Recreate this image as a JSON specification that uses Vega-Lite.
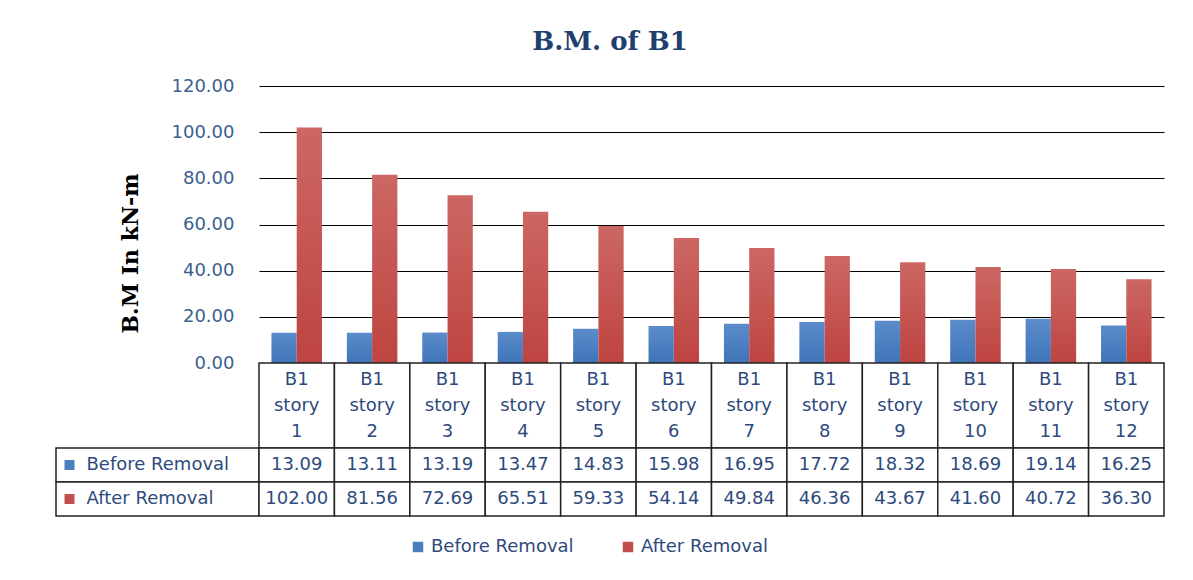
{
  "$schema": "https://vega.github.io/schema/vega-lite/v6.json",
  "background": "white",
  "padding": {"left": 55, "top": 29, "right": 30, "bottom": 3},
  "title": {"text": "B.M. of B1", "font": "DejaVu Serif", "fontSize": 26, "fontWeight": "bold", "color": "#1F3F6E", "anchor": "middle", "offset": 22},
  "datasets": {
    "bm": [
      {"story": "B1 story 1", "series": "Before Removal", "value": 13.09},
      {"story": "B1 story 1", "series": "After Removal", "value": 102.00},
      {"story": "B1 story 2", "series": "Before Removal", "value": 13.11},
      {"story": "B1 story 2", "series": "After Removal", "value": 81.56},
      {"story": "B1 story 3", "series": "Before Removal", "value": 13.19},
      {"story": "B1 story 3", "series": "After Removal", "value": 72.69},
      {"story": "B1 story 4", "series": "Before Removal", "value": 13.47},
      {"story": "B1 story 4", "series": "After Removal", "value": 65.51},
      {"story": "B1 story 5", "series": "Before Removal", "value": 14.83},
      {"story": "B1 story 5", "series": "After Removal", "value": 59.33},
      {"story": "B1 story 6", "series": "Before Removal", "value": 15.98},
      {"story": "B1 story 6", "series": "After Removal", "value": 54.14},
      {"story": "B1 story 7", "series": "Before Removal", "value": 16.95},
      {"story": "B1 story 7", "series": "After Removal", "value": 49.84},
      {"story": "B1 story 8", "series": "Before Removal", "value": 17.72},
      {"story": "B1 story 8", "series": "After Removal", "value": 46.36},
      {"story": "B1 story 9", "series": "Before Removal", "value": 18.32},
      {"story": "B1 story 9", "series": "After Removal", "value": 43.67},
      {"story": "B1 story 10", "series": "Before Removal", "value": 18.69},
      {"story": "B1 story 10", "series": "After Removal", "value": 41.60},
      {"story": "B1 story 11", "series": "Before Removal", "value": 19.14},
      {"story": "B1 story 11", "series": "After Removal", "value": 40.72},
      {"story": "B1 story 12", "series": "Before Removal", "value": 16.25},
      {"story": "B1 story 12", "series": "After Removal", "value": 36.30}
    ]
  },
  "columns": 2,
  "spacing": 0,
  "bounds": "flush",
  "resolve": {"scale": {"x": "independent", "y": "independent", "color": "shared"}},
  "config": {"view": {"stroke": null}, "font": "DejaVu Sans"},
  "concat": [
    {
      "width": 203, "height": 277,
      "data": {"values": [{}]},
      "mark": {"type": "text", "text": ""},
      "encoding": {}
    },
    {
      "width": 905, "height": 277,
      "data": {"name": "bm"},
      "mark": {"type": "bar"},
      "encoding": {
        "x": {"field": "story", "type": "nominal", "sort": null, "scale": {"paddingInner": 0.33, "paddingOuter": 0.165}, "axis": null},
        "xOffset": {"field": "series", "type": "nominal", "sort": ["Before Removal", "After Removal"], "scale": {"paddingInner": 0, "paddingOuter": 0}},
        "y": {
          "field": "value", "type": "quantitative",
          "scale": {"domain": [0, 120], "nice": false},
          "axis": {
            "title": "B.M In kN-m", "titleFont": "DejaVu Serif", "titleFontSize": 22, "titleFontWeight": "bold", "titleColor": "#000000",
            "titleX": -117, "titleY": 167,
            "values": [0, 20, 40, 60, 80, 100, 120], "format": ".2f",
            "labelFont": "DejaVu Sans", "labelFontSize": 18, "labelColor": "#3B5F8F", "labelPadding": 25,
            "ticks": false, "domain": false, "grid": true, "gridColor": "#000000", "gridWidth": 1.2
          }
        },
        "fill": {
          "condition": {"test": "datum.series === 'Before Removal'", "value": {"gradient": "linear", "x1": 0, "y1": 0, "x2": 0, "y2": 1, "stops": [{"offset": 0, "color": "#5B8CCB"}, {"offset": 1, "color": "#3F74B8"}]}},
          "value": {"gradient": "linear", "x1": 0, "y1": 0, "x2": 0, "y2": 1, "stops": [{"offset": 0, "color": "#CC6763"}, {"offset": 1, "color": "#BE4441"}]}
        }
      }
    },
    {
      "width": 203, "height": 85,
      "data": {"values": [{}]},
      "mark": {"type": "text", "text": ""},
      "encoding": {}
    },
    {
      "width": 905, "height": 85,
      "data": {"name": "bm"},
      "transform": [{"filter": "datum.series === 'Before Removal'"}],
      "encoding": {
        "x": {"field": "story", "type": "nominal", "sort": null, "scale": {"paddingInner": 0, "paddingOuter": 0}, "axis": null}
      },
      "layer": [
        {"mark": {"type": "rect", "fill": "white", "stroke": "#222222", "strokeWidth": 1.5}},
        {"mark": {"type": "text", "lineBreak": " ", "lineHeight": 26, "fontSize": 18, "color": "#2E4A7D", "baseline": "middle", "dy": -26}, "encoding": {"text": {"field": "story"}}}
      ]
    },
    {
      "width": 203, "height": 68,
      "data": {"name": "bm"},
      "transform": [{"filter": "datum.story === 'B1 story 1'"}],
      "encoding": {
        "y": {"field": "series", "type": "nominal", "sort": ["Before Removal", "After Removal"], "scale": {"paddingInner": 0, "paddingOuter": 0}, "axis": null}
      },
      "layer": [
        {"mark": {"type": "rect", "fill": "white", "stroke": "#222222", "strokeWidth": 1.5}},
        {
          "mark": {"type": "point", "shape": "square", "filled": true, "size": 100, "xOffset": -88, "opacity": 1},
          "encoding": {
            "color": {
              "field": "series", "type": "nominal",
              "scale": {"domain": ["Before Removal", "After Removal"], "range": ["#4A7EBF", "#C0504D"]},
              "legend": {"orient": "none", "legendX": 353, "legendY": 452, "direction": "horizontal", "title": null, "labelFont": "DejaVu Sans", "labelFontSize": 18, "labelColor": "#2E4A7D", "symbolType": "square", "symbolSize": 110, "columnPadding": 45, "labelLimit": 300}
            }
          }
        },
        {"mark": {"type": "text", "align": "left", "dx": -71, "fontSize": 18, "color": "#2E4A7D", "baseline": "middle"}, "encoding": {"text": {"field": "series"}}}
      ]
    },
    {
      "width": 905, "height": 68,
      "data": {"name": "bm"},
      "encoding": {
        "x": {"field": "story", "type": "nominal", "sort": null, "scale": {"paddingInner": 0, "paddingOuter": 0}, "axis": null},
        "y": {"field": "series", "type": "nominal", "sort": ["Before Removal", "After Removal"], "scale": {"paddingInner": 0, "paddingOuter": 0}, "axis": null}
      },
      "layer": [
        {"mark": {"type": "rect", "fill": "white", "stroke": "#222222", "strokeWidth": 1.5}},
        {"mark": {"type": "text", "fontSize": 18, "color": "#2E4A7D", "baseline": "middle"}, "encoding": {"text": {"field": "value", "type": "quantitative", "format": ".2f"}}}
      ]
    }
  ]
}
